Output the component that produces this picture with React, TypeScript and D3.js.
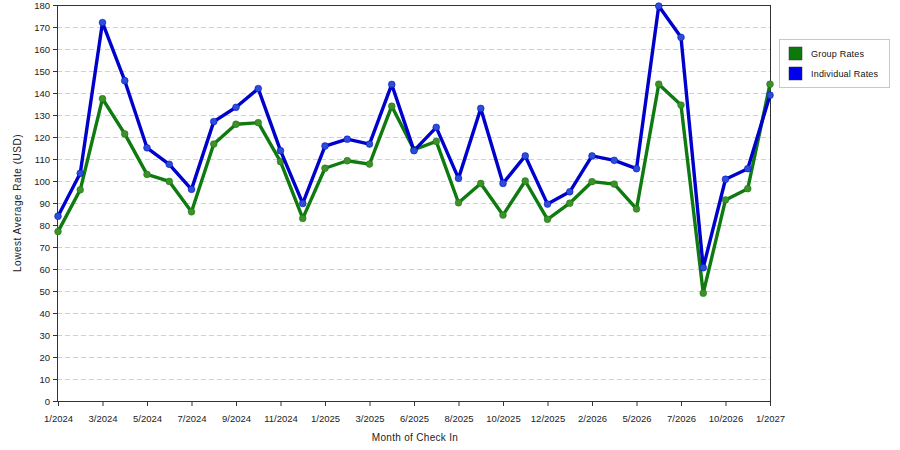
import React, { useEffect, useRef } from "react";
import * as d3 from "d3";

// month of check-in, one entry per point (only every 2nd is labelled)
const months = [
  "1/2024", "2/2024", "3/2024", "4/2024", "5/2024", "6/2024", "7/2024", "8/2024",
  "9/2024", "10/2024", "11/2024", "12/2024", "1/2025", "2/2025", "3/2025", "5/2025",
  "6/2025", "7/2025", "8/2025", "9/2025", "10/2025", "11/2025", "12/2025", "1/2026",
  "2/2026", "4/2026", "5/2026", "6/2026", "7/2026", "9/2026", "10/2026", "12/2026",
  "1/2027",
];

const groupRates = [
  77, 96, 137.4, 121.4, 103, 99.8, 86, 116.8, 125.8, 126.5, 108.8, 83, 105.8,
  109.2, 107.7, 134, 114.2, 118, 90.1, 98.9, 84.5, 100, 82.6, 89.9, 99.7, 98.6,
  87.3, 144, 134.5, 49, 91.4, 96.5, 144,
];

const individualRates = [
  84, 103.5, 172, 145.6, 115.1, 107.6, 96.2, 127, 133.5, 142, 113.8, 89.8, 115.9,
  119, 116.8, 143.9, 113.8, 124.4, 101.2, 133, 98.9, 111.4, 89.5, 95.1, 111.4,
  109.4, 105.6, 179.5, 165.3, 60.6, 100.8, 105.6, 139,
];

const yTicks = d3.range(0, 181, 10);

const series = [
  { name: "Group Rates", values: groupRates, line: "#0f7a0f", dot: "#3f8f2a", swatch: "#0b7a0b" },
  { name: "Individual Rates", values: individualRates, line: "#0000cc", dot: "#2a4fd6", swatch: "#0000ee" },
];

export default function App() {
  const ref = useRef<HTMLDivElement>(null);

  useEffect(() => {
    const width = 900;
    const height = 450;
    const left = 57;
    const right = 770;
    const top = 5;
    const bottom = 401;
    const font = "'Liberation Sans', Arial, sans-serif";

    const x = d3.scalePoint<string>().domain(months).range([left + 1, right]);
    const y = d3.scaleLinear().domain([0, 180]).range([bottom, top]);

    const svg = d3
      .create("svg")
      .attr("width", width)
      .attr("height", height)
      .style("display", "block")
      .style("font-family", font);

    svg.append("rect").attr("width", width).attr("height", height).attr("fill", "#fff");

    // dashed grid
    svg
      .append("g")
      .selectAll("line")
      .data(yTicks.filter((t) => t > 0 && t < 180))
      .join("line")
      .attr("x1", left)
      .attr("x2", right)
      .attr("y1", (d) => y(d))
      .attr("y2", (d) => y(d))
      .attr("stroke", "#d0d0d0")
      .attr("stroke-dasharray", "5,3")
      .attr("shape-rendering", "crispEdges");

    // frame
    svg
      .append("rect")
      .attr("x", left)
      .attr("y", top)
      .attr("width", right - left)
      .attr("height", bottom - top)
      .attr("fill", "none")
      .attr("stroke", "#333")
      .attr("shape-rendering", "crispEdges");

    // y axis
    const yAxis = svg
      .append("g")
      .attr("transform", `translate(${left},0)`)
      .call(d3.axisLeft(y).tickValues(yTicks).tickSize(4).tickPadding(3));
    yAxis.select(".domain").attr("stroke", "#333");
    yAxis.selectAll(".tick line").attr("stroke", "#333");
    yAxis.selectAll("text").attr("fill", "#222").style("font-size", "9.5px").style("font-family", font);

    // x axis, every second month labelled
    const xAxis = svg
      .append("g")
      .attr("transform", `translate(0,${bottom})`)
      .call(
        d3
          .axisBottom(x)
          .tickValues(months.filter((_, i) => i % 2 === 0))
          .tickSize(5)
          .tickPadding(9)
      );
    xAxis.select(".domain").attr("stroke", "#333");
    xAxis.selectAll(".tick line").attr("stroke", "#333");
    xAxis.selectAll("text").attr("fill", "#222").style("font-size", "9.5px").style("font-family", font);

    // axis titles
    svg
      .append("text")
      .attr("transform", `translate(21,${(top + bottom) / 2}) rotate(-90)`)
      .attr("text-anchor", "middle")
      .style("font-size", "10px")
      .style("letter-spacing", "0.5px")
      .attr("fill", "#222")
      .text("Lowest Average Rate (USD)");

    svg
      .append("text")
      .attr("x", 415)
      .attr("y", 441)
      .attr("text-anchor", "middle")
      .style("font-size", "10px")
      .style("letter-spacing", "0.3px")
      .attr("fill", "#222")
      .text("Month of Check In");

    const line = d3
      .line<number>()
      .x((_, i) => x(months[i]) as number)
      .y((d) => y(d));

    const plot = svg.append("g");
    series.forEach((s) => {
      plot
        .append("path")
        .datum(s.values)
        .attr("fill", "none")
        .attr("stroke", s.line)
        .attr("stroke-width", 3.4)
        .attr("stroke-linejoin", "round")
        .attr("d", line);
      plot
        .append("g")
        .selectAll("circle")
        .data(s.values)
        .join("circle")
        .attr("cx", (_, i) => x(months[i]) as number)
        .attr("cy", (d) => y(d))
        .attr("r", 3.4)
        .attr("fill", s.dot)
        .attr("stroke", s.line)
        .attr("stroke-opacity", 0.5)
        .attr("stroke-width", 1);
    });

    // legend
    const legend = svg.append("g").attr("transform", "translate(779,39)");
    legend
      .append("rect")
      .attr("width", 110)
      .attr("height", 48)
      .attr("fill", "#fff")
      .attr("stroke", "#c8c8c8")
      .attr("shape-rendering", "crispEdges");
    series.forEach((s, i) => {
      legend
        .append("rect")
        .attr("x", 10)
        .attr("y", 8 + i * 20)
        .attr("width", 13)
        .attr("height", 13)
        .attr("fill", s.swatch)
        .attr("stroke", "#333")
        .attr("stroke-width", 0.5);
      legend
        .append("text")
        .attr("x", 32)
        .attr("y", 15 + i * 20)
        .attr("dy", "0.35em")
        .style("font-size", "9px")
        .style("letter-spacing", "0.2px")
        .attr("fill", "#111")
        .text(s.name);
    });

    if (ref.current) {
      ref.current.innerHTML = "";
      ref.current.appendChild(svg.node()!);
    }
  }, []);

  return <div ref={ref} style={{ position: "absolute", left: 0, top: 0 }} />;
}
